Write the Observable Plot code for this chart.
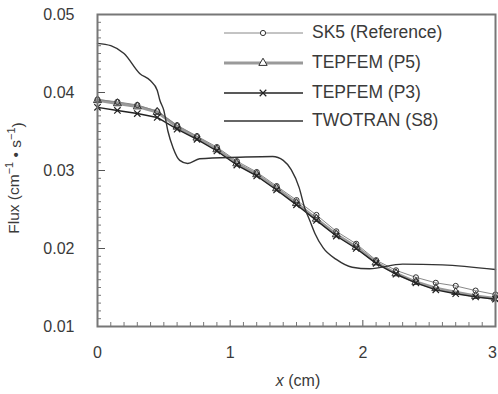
<!DOCTYPE html>
<html><head><meta charset="utf-8">
<script src="https://cdn.jsdelivr.net/npm/d3@7"></script>
<script src="https://cdn.jsdelivr.net/npm/@observablehq/plot@0.6"></script>
<style>body{margin:0;background:#fff}</style>
</head><body><div id="chart"></div>
<script>
// Marker abscissae (cm)
const xs = [0, 0.15, 0.3, 0.45, 0.6, 0.75, 0.9, 1.05, 1.2, 1.35, 1.5, 1.65, 1.8, 1.95, 2.1, 2.25, 2.4, 2.55, 2.7, 2.85, 3.0];
const sk5 = [0.0391, 0.0388, 0.0384, 0.0376, 0.0358, 0.0344, 0.0330, 0.0312, 0.0298, 0.0280, 0.0262, 0.0243, 0.0222, 0.0206, 0.0185, 0.0172, 0.0163, 0.0156, 0.0152, 0.0146, 0.0141];
const p5  = [0.0390, 0.0386, 0.0382, 0.0375, 0.0356, 0.0342, 0.0327, 0.0309, 0.0295, 0.0277, 0.0258, 0.0238, 0.0218, 0.0202, 0.0182, 0.0168, 0.0157, 0.0149, 0.0144, 0.0139, 0.0136];
const p3  = [0.0381, 0.0377, 0.0373, 0.0368, 0.0353, 0.0340, 0.0325, 0.0307, 0.0293, 0.0275, 0.0256, 0.0236, 0.0216, 0.0200, 0.0181, 0.0167, 0.0156, 0.0147, 0.0142, 0.0138, 0.0135];
// TWOTRAN (S8) curve
const tx = [0, 0.1, 0.2, 0.32, 0.4, 0.45, 0.47, 0.5, 0.53, 0.57, 0.62, 0.68, 0.77, 1.07, 1.32, 1.4, 1.46, 1.52, 1.56, 1.6, 1.64, 1.7, 1.8, 1.92, 2.05, 2.3, 2.6, 3.0];
const ty = [0.0463, 0.0460, 0.0450, 0.0424, 0.0415, 0.0403, 0.0390, 0.0377, 0.0351, 0.0329, 0.0313, 0.0309, 0.0315, 0.0317, 0.0318, 0.0313, 0.0301, 0.0278, 0.0253, 0.0236, 0.0219, 0.0201, 0.0186, 0.0176, 0.0174, 0.0180, 0.0179, 0.0173];

const xTicks = [0, 1, 2, 3];
const xMinor = [0.1,0.2,0.3,0.4,0.5,0.6,0.7,0.8,0.9,1.1,1.2,1.3,1.4,1.5,1.6,1.7,1.8,1.9,2.1,2.2,2.3,2.4,2.5,2.6,2.7,2.8,2.9];
const yTicks = [0.01, 0.02, 0.03, 0.04, 0.05];
const yMinor = [0.011,0.012,0.013,0.014,0.015,0.016,0.017,0.018,0.019,0.021,0.022,0.023,0.024,0.025,0.026,0.027,0.028,0.029,0.031,0.032,0.033,0.034,0.035,0.036,0.037,0.038,0.039,0.041,0.042,0.043,0.044,0.045,0.046,0.047,0.048,0.049];
const seriesNames = ["SK5 (Reference)", "TEPFEM (P5)", "TEPFEM (P3)", "TWOTRAN (S8)"];

const W = 498, H = 394, mL = 97, mR = 3, mT = 14, mB = 68;
const plotW = W - mL - mR, plotH = H - mT - mB;
const rows = ys => xs.map((x, i) => ({x, y: ys[i]}));
const twotran = tx.map((x, i) => ({x, y: ty[i]}));

const plot = Plot.plot({
  width: W, height: H,
  marginLeft: mL, marginRight: mR, marginTop: mT, marginBottom: mB,
  style: {fontFamily: "'Liberation Sans', Arial, sans-serif", fontSize: "16px", color: "#3a3a3a", background: "#fff"},
  x: {domain: [0, 3]},
  y: {domain: [0.01, 0.05]},
  marks: [
    Plot.axisX({ticks: xTicks, tickSize: 0, tickPadding: 20, label: null, tickFormat: d => String(d)}),
    Plot.axisY({ticks: yTicks, tickSize: 0, tickPadding: 23, label: null, tickFormat: d => d.toFixed(2)}),
    Plot.tickY(yMinor, {y: d => d, stroke: "#777", insetRight: plotW - 4}),
    Plot.tickY(yTicks, {y: d => d, stroke: "#555", insetRight: plotW - 8}),
    Plot.tickX(xMinor, {x: d => d, stroke: "#777", insetTop: plotH - 4}),
    Plot.tickX(xTicks, {x: d => d, stroke: "#555", insetTop: plotH - 6}),
    Plot.lineY(rows(p5), {x: "x", y: "y", stroke: "#9a9a9a", strokeWidth: 3}),
    Plot.lineY(rows(sk5), {x: "x", y: "y", stroke: "#888", strokeWidth: 1}),
    Plot.lineY(rows(p3), {x: "x", y: "y", stroke: "#222", strokeWidth: 1.4}),
    Plot.lineY(twotran, {x: "x", y: "y", stroke: "#333", strokeWidth: 1.4, curve: "monotone-x"}),
    Plot.dot(rows(p5), {x: "x", y: "y", symbol: "triangle", r: 3, stroke: "#333", fill: "none", strokeWidth: 1}),
    Plot.dot(rows(sk5), {x: "x", y: "y", symbol: "circle", r: 2.6, stroke: "#333", fill: "none", strokeWidth: 1}),
    Plot.dot(rows(p3), {x: "x", y: "y", symbol: "times", r: 3, stroke: "#222", strokeWidth: 1.2}),
    Plot.frame({stroke: "#777", strokeWidth: 2})
  ]
});
document.getElementById("chart").appendChild(plot);

const svg = d3.select(plot);
// keep the last x tick label inside the picture
const xLabels = svg.selectAll("g[aria-label='x-axis tick label'] text");
if (!xLabels.empty()) d3.select(xLabels.nodes()[xLabels.size() - 1]).attr("dx", -3);

// Axis labels
const yl = svg.append("text")
  .attr("transform", "translate(15,178) rotate(-90)")
  .attr("text-anchor", "middle").attr("dominant-baseline", "middle")
  .attr("fill", "#3a3a3a").style("font-size", "15.5px");
yl.append("tspan").text("Flux (cm");
yl.append("tspan").text("−1").attr("dy", "-0.45em").style("font-size", "11px");
yl.append("tspan").text(" • s").attr("dy", "0.45em");
yl.append("tspan").text("−1").attr("dy", "-0.45em").style("font-size", "11px");
yl.append("tspan").text(")").attr("dy", "0.45em");

const xl = svg.append("text")
  .attr("x", 298).attr("y", 382)
  .attr("text-anchor", "middle").attr("dominant-baseline", "middle")
  .attr("fill", "#3a3a3a").style("font-size", "16px");
xl.append("tspan").text("x").style("font-style", "italic");
xl.append("tspan").text(" (cm)");

// Legend
const lg = svg.append("g").attr("text-anchor", "start");
const ly = [33, 63, 93, 121];
const styles = [
  {stroke: "#888", w: 1, m: "circle"},
  {stroke: "#9a9a9a", w: 3, m: "triangle"},
  {stroke: "#222", w: 1.4, m: "times"},
  {stroke: "#333", w: 1.4, m: null}
];
seriesNames.forEach((name, i) => {
  const s = styles[i], y = ly[i];
  lg.append("line").attr("x1", 224).attr("x2", 303).attr("y1", y).attr("y2", y)
    .attr("stroke", s.stroke).attr("stroke-width", s.w);
  if (s.m === "circle") lg.append("circle").attr("cx", 263).attr("cy", y).attr("r", 2.6).attr("fill", "white").attr("stroke", "#333");
  if (s.m === "triangle") lg.append("path").attr("d", d3.symbol(d3.symbolTriangle, 30)()).attr("transform", `translate(263,${y})`).attr("fill", "white").attr("stroke", "#333");
  if (s.m === "times") lg.append("path").attr("d", d3.symbol(d3.symbolTimes, 30)()).attr("transform", `translate(263,${y})`).attr("fill", "none").attr("stroke", "#222").attr("stroke-width", 1.2);
  lg.append("text").attr("x", 312).attr("y", y).attr("dominant-baseline", "middle").attr("text-anchor", "start")
    .attr("fill", "#3a3a3a").style("font-size", "17.5px").text(name);
});
</script>
</body></html>
